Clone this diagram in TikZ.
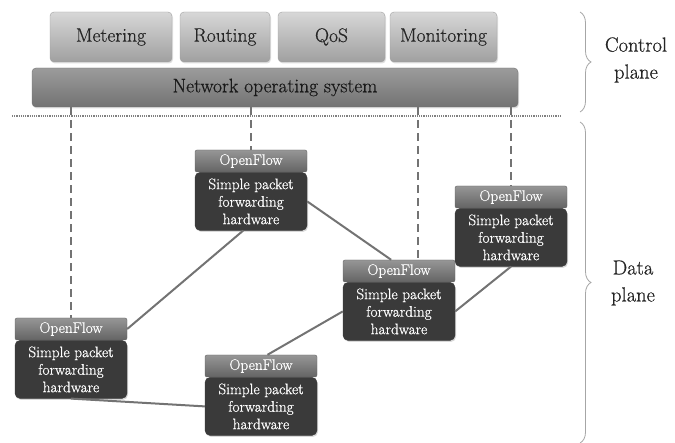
\documentclass[tikz,border=0pt]{standalone}
\usepackage{fontspec}
\setmainfont{Latin Modern Roman}[FakeBold=0.6]
\usetikzlibrary{
  positioning,
  decorations.pathreplacing,
  shadows
}
\definecolor{applight}{RGB}{215,215,215}
\definecolor{appdark}{RGB}{160,160,160}
\definecolor{noslight}{RGB}{155,155,155}
\definecolor{nosdark}{RGB}{115,115,115}
\definecolor{oflight}{RGB}{150,150,150}
\definecolor{ofdark}{RGB}{100,100,100}
\definecolor{hwdark}{RGB}{58,58,58}
\definecolor{linkgray}{RGB}{115,115,115}

\begin{document}
\begin{tikzpicture}[
  x=1pt,
  y=-1pt,
  app/.style={
    draw=appdark,
    rounded corners=4pt,
    top color=applight,
    bottom color=appdark,
    minimum height=50pt,
    inner sep=0pt,
    text=black!85,
    font=\fontsize{19.5}{22}\selectfont,
    drop shadow={opacity=0.25,shadow xshift=1pt,shadow yshift=-1.5pt}
  },
  nos/.style={
    draw=nosdark,
    rounded corners=4pt,
    top color=noslight,
    bottom color=nosdark,
    minimum width=486pt,
    minimum height=39pt,
    inner sep=0pt,
    text=black!90,
    font=\fontsize{19.5}{22}\selectfont,
    drop shadow={opacity=0.25,shadow xshift=1pt,shadow yshift=-1.5pt}
  },
  ofhead/.style={
    draw=ofdark,
    rounded corners=2pt,
    top color=oflight,
    bottom color=ofdark,
    minimum width=112pt,
    minimum height=22pt,
    inner sep=0pt,
    text=white,
    font=\fontsize{15.3}{17.5}\selectfont
  },
  hwbox/.style={
    draw=hwdark,
    rounded corners=5pt,
    fill=hwdark,
    minimum width=112pt,
    minimum height=58pt,
    inner sep=0pt,
    text=white,
    font=\fontsize{15.3}{17.5}\selectfont,
    drop shadow={opacity=0.3,shadow xshift=1pt,shadow yshift=-1.5pt}
  },
  ctrl/.style={
    draw=linkgray,
    line width=1.5pt,
    dash pattern=on 8pt off 5pt
  },
  link/.style={
    draw=linkgray,
    line width=2pt
  },
  plane/.style={
    draw=gray!70,
    thick,
    decorate,
    decoration={brace,amplitude=11pt}
  },
  planetext/.style={
    align=center,
    text=black!85,
    font=\fontsize{20.5}{27}\selectfont
  }
]
\useasboundingbox (0,0) rectangle (675,443);

% Control plane
\node[app,minimum width=122pt] (meter) at (111,37) {Metering};
\node[app,minimum width=90pt] (route) at (225,37) {Routing};
\node[app,minimum width=107pt] (qos) at (331.5,37) {QoS};
\node[app,minimum width=107pt] (monitor) at (443.5,37) {Monitoring};
\node[nos] (nos) at (275,87.5) {Network operating system};

% Separator
\coordinate (sepl) at (12,116);
\coordinate (sepr) at (560,116);
\draw[gray,densely dotted,line width=1.2pt] (sepl) -- (sepr);

% Switches
\foreach \n/\x/\y in {1/195/150, 2/455/186, 3/343/260, 4/15/318, 5/205/355} {
  \node[ofhead] (of\n) at (\x+56,\y+11) {OpenFlow};
  \node[hwbox,below=0pt of of\n] (hw\n)
    {\parbox{108pt}{\centering Simple packet\\forwarding\\hardware}};
}

% Controller links
\coordinate (c3) at ([xshift=19pt]of3.north);
\foreach \sw in {of1.north,of2.north,of4.north,c3} {
  \draw[ctrl] (nos.south -| \sw) -- (\sw);
}

% Data links
\draw[link] (of4.east) -- (hw1.255);
\draw[link] (hw1.east) -- (of3.125);
\draw[link] (hw3.east) -- (hw2.south);
\draw[link] (hw4.south) -- (hw5.west);
\draw[link] (of5.60) -- (hw3.west);

% Braces
\coordinate (ctop) at (580,12);
\coordinate (cbot) at (580,112);
\coordinate (dtop) at (580,122);
\coordinate (dbot) at (580,443);
\draw[plane] (ctop) -- (cbot);
\draw[plane] (dtop) -- (dbot);
\node[planetext] (ctext) at (636,60) {Control\\plane};
\node[planetext] (dtext) at (633,283) {Data\\plane};

\end{tikzpicture}
\end{document}
